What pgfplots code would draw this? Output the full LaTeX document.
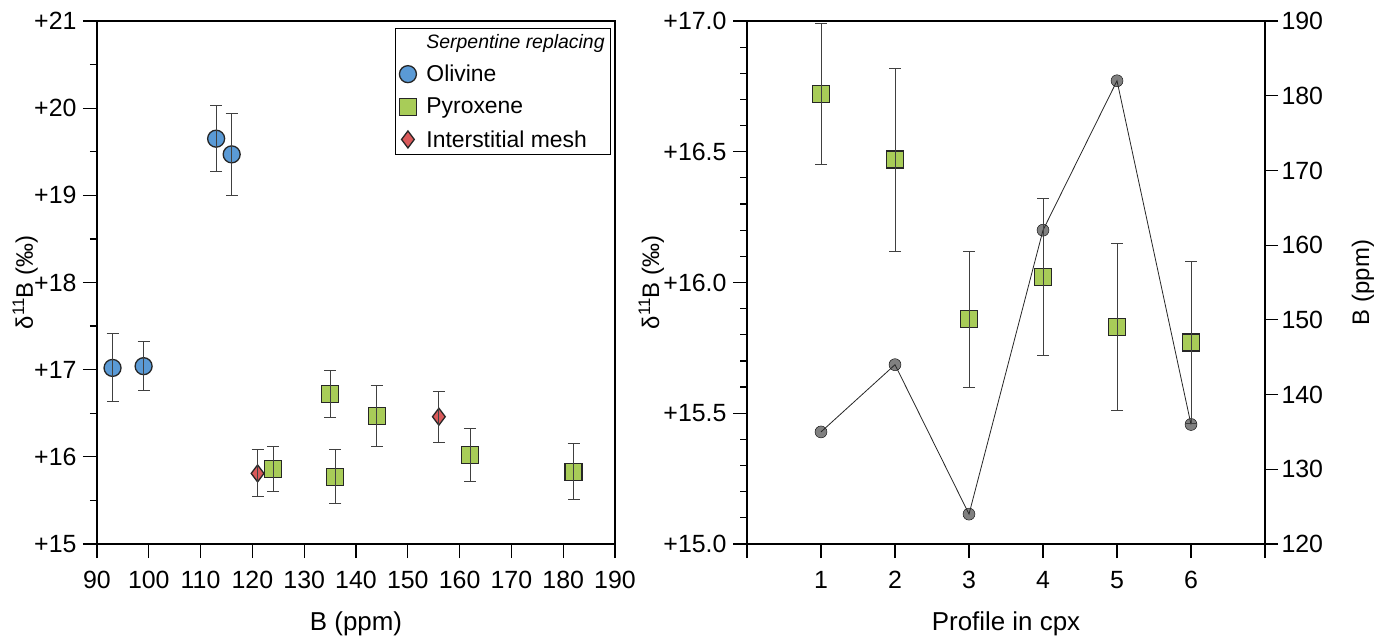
\documentclass[border=0pt]{standalone}
\usepackage{fontspec}
\setmainfont{Liberation Sans}
\usepackage{pgfplots}
\pgfplotsset{compat=1.18}
\definecolor{olblue}{HTML}{5A9AD6}
\definecolor{pxgreen}{HTML}{A8CC58}
\definecolor{mshred}{HTML}{D9595A}
\definecolor{dotgray}{HTML}{808080}
\definecolor{errgray}{HTML}{404040}
\pgfplotsset{
  mystyle/.style={
    scale only axis, width=518bp, height=523bp, clip=false, clip marker paths=true,
    axis line style={line width=1.5bp},
    tick style={line width=1.2bp, black},
    tick align=outside, major tick length=14bp, minor tick length=7bp,
    /pgf/number format/assume math mode=true,
    ticklabel style={font=\fontsize{25}{25}\selectfont},
    xticklabel style={yshift=-10bp},
    yticklabel style={xshift=-3bp},
    xlabel style={font=\fontsize{26}{26}\selectfont},
    ylabel style={font=\fontsize{24}{24}\selectfont},
  },
  eb/.style={error bars/.cd, y dir=both, y explicit,
    error mark options={rotate=90, line width=0.9bp, mark size=6bp, draw=errgray},
    error bar style={line width=0.9bp, draw=errgray}},
}
\begin{document}
\begin{tikzpicture}
\useasboundingbox (-97bp,-93bp) rectangle (1288bp,544bp);
% ---------------- left panel
\begin{axis}[mystyle, at={(0,0)}, anchor=south west,
  xmin=90, xmax=190, ymin=15, ymax=21,
  xtick={90,100,...,190}, ytick={15,...,21},
  yticklabels={+15,+16,+17,+18,+19,+20,+21},
  minor ytick={15.5,16.5,...,20.5},
  xtick pos=bottom, ytick pos=left,
  xlabel={B (ppm)}, ylabel={δ\textsuperscript{11}B (‰)},
  xlabel style={at={([yshift=-86bp]axis description cs:0.5,0)}, anchor=base},
  ylabel style={at={([xshift=-64bp]axis description cs:0,0.5)}, anchor=base},
  legend style={at={(axis description cs:0.993,0.987)}, anchor=north east,
    draw=black, line width=1.5bp, font=\fontsize{23}{23}\selectfont,
    row sep=11bp, inner sep=4bp, column sep=8bp},
  legend cell align=left,
]
\addlegendimage{empty legend}
\addlegendentry{\fontsize{19.5}{19.5}\selectfont\itshape Serpentine replacing}
\addplot[only marks, mark=*, mark size=8.5bp, mark options={fill=olblue, draw=black!85, line width=1.3bp}]
  coordinates {(93,17.02) (99,17.04) (113,19.65) (116,19.47)};
\addlegendentry{Olivine}
\addplot[only marks, mark=square*, mark size=8.5bp, mark options={fill=pxgreen, draw=black!85, line width=1.3bp}]
  coordinates {(124,15.86) (135,16.72) (136,15.77) (144,16.47) (162,16.02) (182,15.83)};
\addlegendentry{Pyroxene}
\addplot[only marks, mark=diamond*, mark size=8.5bp, mark options={fill=mshred, draw=black!85, line width=1.3bp}]
  coordinates {(121,15.81) (156,16.46)};
\addlegendentry{Interstitial mesh}
\addplot[forget plot, draw=none, mark=none, eb] coordinates {
  (93,17.02) +- (0,0.39)
  (99,17.04) +- (0,0.28)
  (113,19.65) +- (0,0.38)
  (116,19.47) +- (0,0.47)
  (124,15.86) +- (0,0.26)
  (135,16.72) +- (0,0.27)
  (136,15.77) +- (0,0.31)
  (144,16.47) +- (0,0.35)
  (162,16.02) +- (0,0.30)
  (182,15.83) +- (0,0.32)
  (121,15.81) +- (0,0.27)
  (156,16.46) +- (0,0.29)
};
\end{axis}
% ---------------- right panel, B ppm on right axis
\begin{axis}[mystyle, at={(650bp,0)}, anchor=south west,
  xmin=0, xmax=7, ymin=120, ymax=190,
  axis x line=none, axis y line*=right,
  ytick={120,130,...,190}, major tick length=13bp,
  yticklabel style={xshift=3bp},
  ylabel={B (ppm)},
  ylabel style={at={([xshift=104bp]axis description cs:1,0.5)}, anchor=base},
]
\addplot[only marks, mark=*, mark size=6bp, mark options={fill=dotgray, draw=none}]
  coordinates {(1,135) (2,144) (3,124) (4,162) (5,182) (6,136)};
\addplot[line width=0.8bp, black!85, mark=none]
  coordinates {(1,135) (2,144) (3,124) (4,162) (5,182) (6,136)};
\end{axis}
% ---------------- right panel, delta
\begin{axis}[mystyle, at={(650bp,0)}, anchor=south west,
  xmin=0, xmax=7, ymin=15, ymax=17,
  xtick={0,...,7}, xticklabels={,1,2,3,4,5,6,},
  ytick={15,15.5,...,17}, yticklabels={+15.0,+15.5,+16.0,+16.5,+17.0},
  minor y tick num=4,
  xtick pos=bottom, ytick pos=left,
  xlabel={Profile in cpx}, ylabel={δ\textsuperscript{11}B (‰)},
  xlabel style={at={([yshift=-86bp]axis description cs:0.5,0)}, anchor=base},
  ylabel style={at={([xshift=-88bp]axis description cs:0,0.5)}, anchor=base},
]
\addplot[only marks, mark=square*, mark size=8.5bp, mark options={fill=pxgreen, draw=black!85, line width=1.3bp}]
  coordinates {(1,16.72) (2,16.47) (3,15.86) (4,16.02) (5,15.83) (6,15.77)};
\addplot[forget plot, draw=none, mark=none, eb] coordinates {
  (1,16.72) +- (0,0.27)
  (2,16.47) +- (0,0.35)
  (3,15.86) +- (0,0.26)
  (4,16.02) +- (0,0.30)
  (5,15.83) +- (0,0.32)
  (6,15.77) +- (0,0.31)
};
\end{axis}
\end{tikzpicture}
\end{document}
